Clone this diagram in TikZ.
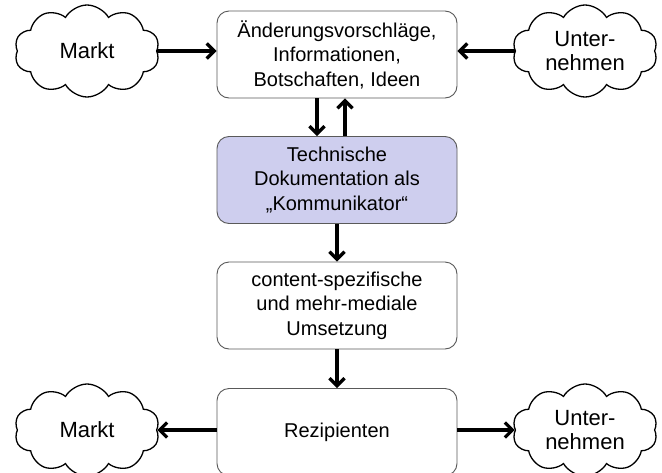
\documentclass[tikz,border=0pt]{standalone}
\usepackage{fontspec}
\setmainfont{Liberation Sans}
\usetikzlibrary{shapes.symbols,arrows.meta}
\definecolor{tdblau}{RGB}{206,206,238}
\tikzset{
  kasten/.style={draw=black!65, line width=0.9pt, rounded corners=12pt, minimum width=240pt, minimum height=87pt, align=center, inner sep=0pt, font=\fontsize{20}{24.5}\selectfont},
  wolke/.style={cloud, cloud puffs=10, cloud puff arc=120, aspect=1.6, draw, line width=1.3pt, minimum width=145pt, minimum height=92pt, align=center, inner sep=0pt, font=\fontsize{22}{24}\selectfont},
  pfeil/.style={line width=3.3pt, -{Straight Barb[length=7.5pt,width=15pt]}}
}
\begin{document}
\begin{tikzpicture}[x=1pt,y=-1pt]
			%%%%% START %%%%%
			\useasboundingbox[fill=white] (0,0) rectangle (662,472);
			
			\node[kasten] (aend) at (337, 54.5) {Änderungsvorschläge,\\Informationen,\\Botschaften, Ideen};
			\node[kasten, fill=tdblau] (tdok) at (337, 180) {Technische\\Dokumentation als\\„Kommunikator“};
			\node[kasten] (umsetz) at (337, 305.5) {content-spezifische\\und mehr-mediale\\Umsetzung};
			\node[kasten] (rezip) at (337, 432) {Rezipienten};
			
			\node[wolke] (marktO) at (87, 51) {Markt};
			\node[wolke] (untO) at (585, 51) {Unter-\\nehmen};
			\node[wolke] (marktU) at (87, 430) {Markt};
			\node[wolke] (untU) at (585, 430) {Unter-\\nehmen};
			
			\draw[pfeil] (marktO.east) -- (aend.west |- marktO.east);
			\draw[pfeil] (untO.west) -- (aend.east |- untO.west);
			\draw[pfeil] ([xshift=-20pt]aend.south) -- ([xshift=-20pt]tdok.north);
			\draw[pfeil] ([xshift=8pt]tdok.north) -- ([xshift=8pt]aend.south);
			\draw[pfeil] (tdok) -- (umsetz);
			\draw[pfeil] (umsetz) -- (rezip);
			\draw[pfeil] (rezip.west |- marktU.east) -- (marktU.east);
			\draw[pfeil] (rezip.east |- untU.west) -- (untU.west);
			
			%%%%% END %%%%%
\end{tikzpicture}
\end{document}
